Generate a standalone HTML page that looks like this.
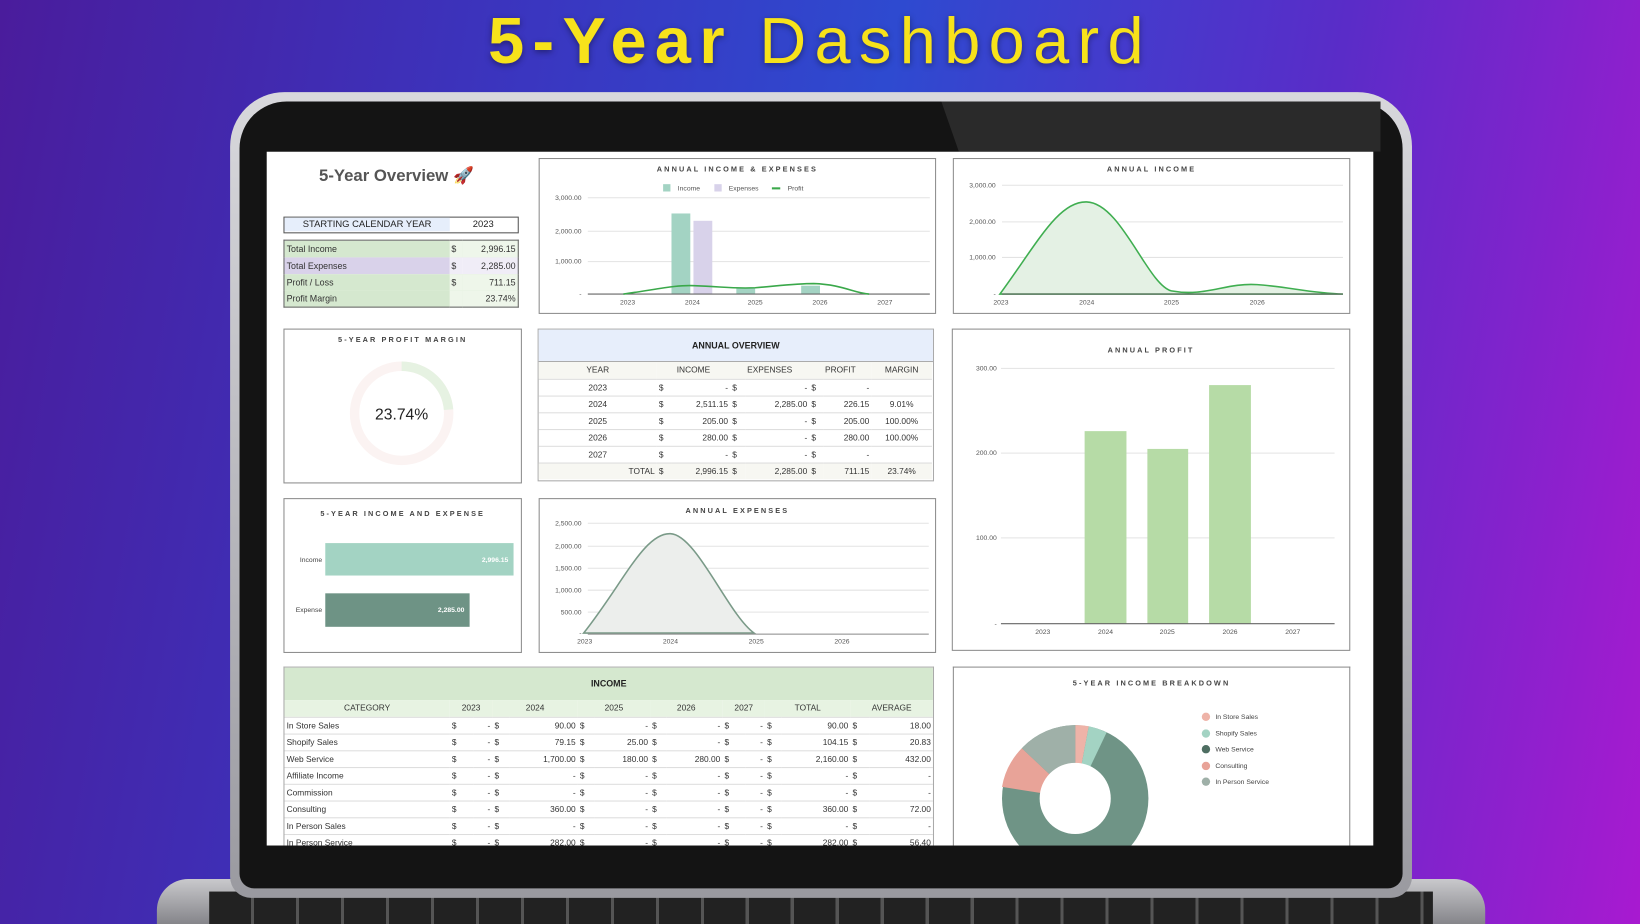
<!DOCTYPE html>
<html><head><meta charset="utf-8"><style>
*{margin:0;padding:0;box-sizing:border-box}
html,body{width:1640px;height:924px;overflow:hidden;background:#3a2ab0}
#w{position:absolute;left:0;top:0;width:1568px;height:883px;transform:scale(1.04592,1.04643);transform-origin:0 0;
background:linear-gradient(100deg,#4a1c9c 0%,#3a36c0 30%,#2e4ad0 50%,#5a2cc8 75%,#a81ad0 100%);overflow:hidden;font-family:"Liberation Sans",sans-serif}
.ttl{position:absolute;top:4px;left:0;width:1568px;text-align:center;color:#f7e21b;font-size:62px;letter-spacing:8px;text-shadow:0 2px 6px rgba(0,0,0,.4)}
.abs{position:absolute}
.p{position:absolute;background:#fff;border:1.5px solid #8c8c8c}
.pt{position:absolute;width:100%;text-align:center;font-size:7px;font-weight:bold;letter-spacing:2px;color:#444}
table{border-collapse:collapse;font-size:8px;color:#333}
td{padding:0 2px;height:16px}
</style></head><body><div id="w">
<div class="ttl"><b>5-Year</b> Dashboard</div>
<!-- laptop -->
<div class="abs" style="left:150px;top:840px;width:1270px;height:60px;background:linear-gradient(#c9c9cc,#6a6a70);border-radius:30px 30px 0 0"></div>
<div class="abs" style="left:200px;top:852px;width:1170px;height:40px;background:repeating-linear-gradient(90deg,#222 0 40px,#555 40px 43px)"></div>
<div class="abs" style="left:220px;top:88px;width:1130px;height:770px;background:linear-gradient(#d8d8dc,#9a9aa0);border-radius:52px 52px 20px 20px"></div>
<div class="abs" style="left:229px;top:97px;width:1112px;height:752px;background:#141414;border-radius:45px 45px 14px 14px"></div>
<div class="abs" style="left:900px;top:97px;width:420px;height:48px;background:#2a2a2a;clip-path:polygon(0 0,100% 0,100% 100%,4% 100%)"></div>
<div class="abs" style="left:255px;top:145px;width:1058px;height:663px;background:#fff"></div>

<div class="abs" style="left:305px;top:158px;font-size:16px;font-weight:bold;color:#555">5-Year Overview 🚀</div>
<div class="abs" style="left:271px;top:207px;width:225px;height:16px;border:1.5px solid #555;font-size:9px;color:#222">
<div class="abs" style="left:0;top:0;width:158px;height:13px;background:#e6eefb;text-align:center;line-height:13px">STARTING CALENDAR YEAR</div>
<div class="abs" style="left:158px;top:0;width:64px;text-align:center;line-height:13px">2023</div></div>
<table class="abs" style="left:271px;top:229px;width:225px;border:1.5px solid #666;font-size:8.5px">
<tr style="background:#d5e8cf"><td style="width:158px">Total Income</td><td style="background:#eef6ea">$</td><td style="background:#eef6ea;text-align:right">2,996.15</td></tr>
<tr><td style="background:#d9d2ea">Total Expenses</td><td style="background:#f0edf7">$</td><td style="background:#f0edf7;text-align:right">2,285.00</td></tr>
<tr style="background:#d5e8cf"><td>Profit / Loss</td><td style="background:#eef6ea">$</td><td style="background:#eef6ea;text-align:right">711.15</td></tr>
<tr style="background:#d5e8cf"><td>Profit Margin</td><td style="background:#eef6ea"></td><td style="background:#eef6ea;text-align:right">23.74%</td></tr></table>

<!-- Annual income & expenses -->
<div class="p" style="left:515px;top:151px;width:380px;height:149px">
<div class="pt" style="top:7px">ANNUAL INCOME &amp; EXPENSES</div>
<svg width="377" height="146" class="abs" style="left:0;top:0" font-family="Liberation Sans" font-size="6.5" fill="#555">
<rect x="118" y="24" width="7" height="7" fill="#a3d3c3"/><text x="132" y="30">Income</text>
<rect x="167" y="24" width="7" height="7" fill="#d8d2ea"/><text x="195" y="30" text-anchor="middle">Expenses</text>
<rect x="222" y="27" width="8" height="2" fill="#3aa84a"/><text x="237" y="30">Profit</text>
<g stroke="#e3e3e3"><line x1="46" y1="37" x2="373" y2="37"/><line x1="46" y1="69" x2="373" y2="69"/><line x1="46" y1="98" x2="373" y2="98"/></g>
<text x="40" y="39" text-anchor="end">3,000.00</text><text x="40" y="71" text-anchor="end">2,000.00</text><text x="40" y="100" text-anchor="end">1,000.00</text><text x="40" y="131" text-anchor="end">-</text>
<rect x="126" y="52" width="18" height="77" fill="#a3d3c3"/><rect x="147" y="59" width="18" height="70" fill="#d8d2ea"/>
<rect x="188" y="123" width="18" height="6" fill="#a3d3c3"/><rect x="250" y="121" width="18" height="8" fill="#a3d3c3"/>
<line x1="46" y1="129" x2="373" y2="129" stroke="#666"/>
<path d="M80 129 C110 125,130 120,148 121 C175 122,185 124,206 123 C230 121,245 119,262 119 C290 120,300 128,315 129" fill="none" stroke="#3aa84a" stroke-width="1.5"/>
<text x="84" y="139" text-anchor="middle">2023</text><text x="146" y="139" text-anchor="middle">2024</text><text x="206" y="139" text-anchor="middle">2025</text><text x="268" y="139" text-anchor="middle">2026</text><text x="330" y="139" text-anchor="middle">2027</text>
</svg></div>

<!-- Annual income -->
<div class="p" style="left:911px;top:151px;width:380px;height:149px">
<div class="pt" style="top:7px">ANNUAL INCOME</div>
<svg width="377" height="146" class="abs" style="left:0;top:0" font-family="Liberation Sans" font-size="6.5" fill="#555">
<g stroke="#e3e3e3"><line x1="46" y1="25" x2="372" y2="25"/><line x1="46" y1="60" x2="372" y2="60"/><line x1="46" y1="94" x2="372" y2="94"/></g>
<text x="40" y="27" text-anchor="end">3,000.00</text><text x="40" y="62" text-anchor="end">2,000.00</text><text x="40" y="96" text-anchor="end">1,000.00</text><text x="40" y="131" text-anchor="end">-</text>
<path d="M44 129 C80 80,100 40,127 41 C160 42,185 120,208 126 C240 132,260 118,290 120 C320 122,340 128,372 129 Z" fill="#e4f1e4" stroke="#3fae50" stroke-width="1.5"/>
<line x1="46" y1="129" x2="372" y2="129" stroke="#666"/>
<text x="45" y="139" text-anchor="middle">2023</text><text x="127" y="139" text-anchor="middle">2024</text><text x="208" y="139" text-anchor="middle">2025</text><text x="290" y="139" text-anchor="middle">2026</text>
</svg></div>

<!-- profit margin -->
<div class="p" style="left:271px;top:314px;width:228px;height:148px">
<div class="pt" style="top:7px">5-YEAR PROFIT MARGIN</div>
<svg width="225" height="145" class="abs" style="left:0;top:0">
<circle cx="112" cy="80" r="45" fill="none" stroke="#fbf3f2" stroke-width="9"/>
<circle cx="112" cy="80" r="45" fill="none" stroke="#e6f2e2" stroke-width="9" stroke-dasharray="67 300" transform="rotate(-90 112 80)"/>
<text x="112" y="86" text-anchor="middle" font-family="Liberation Sans" font-size="15" fill="#222">23.74%</text></svg></div>

<!-- annual overview -->
<div class="p" style="left:514px;top:314px;width:379px;height:146px;border-color:#aaa">
<div style="height:31px;background:#e7eefb;border-bottom:1.5px solid #aaa;text-align:center;line-height:31px;font-size:8.5px;font-weight:bold;color:#222">ANNUAL OVERVIEW</div>
<table style="width:376px;font-size:8px">
<tr style="background:#f7f7f2;text-align:center"><td style="width:113px">YEAR</td><td colspan="2">INCOME</td><td colspan="2">EXPENSES</td><td colspan="2">PROFIT</td><td>MARGIN</td></tr>
<tr style="border-top:1px solid #ddd"><td align="center">2023</td><td>$</td><td align="right">-</td><td>$</td><td align="right">-</td><td>$</td><td align="right">-</td><td></td></tr>
<tr style="border-top:1px solid #ddd"><td align="center">2024</td><td>$</td><td align="right">2,511.15</td><td>$</td><td align="right">2,285.00</td><td>$</td><td align="right">226.15</td><td align="center">9.01%</td></tr>
<tr style="border-top:1px solid #ddd"><td align="center">2025</td><td>$</td><td align="right">205.00</td><td>$</td><td align="right">-</td><td>$</td><td align="right">205.00</td><td align="center">100.00%</td></tr>
<tr style="border-top:1px solid #ddd"><td align="center">2026</td><td>$</td><td align="right">280.00</td><td>$</td><td align="right">-</td><td>$</td><td align="right">280.00</td><td align="center">100.00%</td></tr>
<tr style="border-top:1px solid #ddd"><td align="center">2027</td><td>$</td><td align="right">-</td><td>$</td><td align="right">-</td><td>$</td><td align="right">-</td><td></td></tr>
<tr style="border-top:1px solid #ddd;background:#f7f7f2"><td align="right">TOTAL</td><td>$</td><td align="right">2,996.15</td><td>$</td><td align="right">2,285.00</td><td>$</td><td align="right">711.15</td><td align="center">23.74%</td></tr>
</table></div>

<!-- annual profit -->
<div class="p" style="left:910px;top:314px;width:381px;height:308px">
<div class="pt" style="top:17px">ANNUAL PROFIT</div>
<svg width="378" height="305" class="abs" style="left:0;top:0" font-family="Liberation Sans" font-size="6.5" fill="#555">
<g stroke="#e3e3e3"><line x1="46" y1="37" x2="365" y2="37"/><line x1="46" y1="118" x2="365" y2="118"/><line x1="46" y1="199" x2="365" y2="199"/></g>
<text x="42" y="39" text-anchor="end">300.00</text><text x="42" y="120" text-anchor="end">200.00</text><text x="42" y="201" text-anchor="end">100.00</text><text x="42" y="283" text-anchor="end">-</text>
<rect x="126" y="97" width="40" height="184" fill="#b6dba6"/><rect x="186" y="114" width="39" height="167" fill="#b6dba6"/><rect x="245" y="53" width="40" height="228" fill="#b6dba6"/>
<line x1="46" y1="281" x2="365" y2="281" stroke="#666"/>
<text x="86" y="291" text-anchor="middle">2023</text><text x="146" y="291" text-anchor="middle">2024</text><text x="205" y="291" text-anchor="middle">2025</text><text x="265" y="291" text-anchor="middle">2026</text><text x="325" y="291" text-anchor="middle">2027</text>
</svg></div>

<!-- income and expense -->
<div class="p" style="left:271px;top:476px;width:228px;height:148px">
<div class="pt" style="top:11px">5-YEAR INCOME AND EXPENSE</div>
<svg width="225" height="145" class="abs" style="left:0;top:0" font-family="Liberation Sans" font-size="6.5">
<rect x="39" y="42" width="180" height="31" fill="#a3d3c3"/><rect x="39" y="90" width="138" height="32" fill="#6e9385"/>
<text x="36" y="60" text-anchor="end" fill="#444">Income</text><text x="36" y="108" text-anchor="end" fill="#444">Expense</text>
<text x="214" y="60" text-anchor="end" fill="#fff" font-weight="bold">2,996.15</text><text x="172" y="108" text-anchor="end" fill="#fff" font-weight="bold">2,285.00</text>
</svg></div>

<!-- annual expenses -->
<div class="p" style="left:515px;top:476px;width:380px;height:148px">
<div class="pt" style="top:8px">ANNUAL EXPENSES</div>
<svg width="377" height="145" class="abs" style="left:0;top:0" font-family="Liberation Sans" font-size="6.5" fill="#555">
<g stroke="#e3e3e3"><line x1="46" y1="23" x2="372" y2="23"/><line x1="46" y1="45" x2="372" y2="45"/><line x1="46" y1="66" x2="372" y2="66"/><line x1="46" y1="87" x2="372" y2="87"/><line x1="46" y1="108" x2="372" y2="108"/></g>
<text x="40" y="25" text-anchor="end">2,500.00</text><text x="40" y="47" text-anchor="end">2,000.00</text><text x="40" y="68" text-anchor="end">1,500.00</text><text x="40" y="89" text-anchor="end">1,000.00</text><text x="40" y="110" text-anchor="end">500.00</text><text x="40" y="130" text-anchor="end">-</text>
<path d="M42 128 C80 80,100 32,125 33 C150 34,180 110,205 128 Z" fill="#eceeec" stroke="#7a9a88" stroke-width="1.5"/>
<line x1="46" y1="129" x2="372" y2="129" stroke="#888"/>
<text x="43" y="138" text-anchor="middle">2023</text><text x="125" y="138" text-anchor="middle">2024</text><text x="207" y="138" text-anchor="middle">2025</text><text x="289" y="138" text-anchor="middle">2026</text>
</svg></div>

<!-- income table -->
<div class="abs" style="left:271px;top:637px;width:622px;height:171px;overflow:hidden;border:1.5px solid #aaa;border-bottom:none">
<div style="height:31px;background:#d5e8cf;text-align:center;line-height:31px;font-size:8.5px;font-weight:bold;color:#222">INCOME</div>
<table style="width:620px;font-size:8px">
<tr style="background:#e7f3e2;text-align:center"><td style="width:158px">CATEGORY</td><td colspan="2">2023</td><td colspan="2">2024</td><td colspan="2">2025</td><td colspan="2">2026</td><td colspan="2">2027</td><td colspan="2">TOTAL</td><td colspan="2">AVERAGE</td></tr>
<tr style="border-top:1px solid #ddd"><td>In Store Sales</td><td>$</td><td align="right">-</td><td>$</td><td align="right">90.00</td><td>$</td><td align="right">-</td><td>$</td><td align="right">-</td><td>$</td><td align="right">-</td><td>$</td><td align="right">90.00</td><td>$</td><td align="right">18.00</td></tr>
<tr style="border-top:1px solid #ddd"><td>Shopify Sales</td><td>$</td><td align="right">-</td><td>$</td><td align="right">79.15</td><td>$</td><td align="right">25.00</td><td>$</td><td align="right">-</td><td>$</td><td align="right">-</td><td>$</td><td align="right">104.15</td><td>$</td><td align="right">20.83</td></tr>
<tr style="border-top:1px solid #ddd"><td>Web Service</td><td>$</td><td align="right">-</td><td>$</td><td align="right">1,700.00</td><td>$</td><td align="right">180.00</td><td>$</td><td align="right">280.00</td><td>$</td><td align="right">-</td><td>$</td><td align="right">2,160.00</td><td>$</td><td align="right">432.00</td></tr>
<tr style="border-top:1px solid #ddd"><td>Affiliate Income</td><td>$</td><td align="right">-</td><td>$</td><td align="right">-</td><td>$</td><td align="right">-</td><td>$</td><td align="right">-</td><td>$</td><td align="right">-</td><td>$</td><td align="right">-</td><td>$</td><td align="right">-</td></tr>
<tr style="border-top:1px solid #ddd"><td>Commission</td><td>$</td><td align="right">-</td><td>$</td><td align="right">-</td><td>$</td><td align="right">-</td><td>$</td><td align="right">-</td><td>$</td><td align="right">-</td><td>$</td><td align="right">-</td><td>$</td><td align="right">-</td></tr>
<tr style="border-top:1px solid #ddd"><td>Consulting</td><td>$</td><td align="right">-</td><td>$</td><td align="right">360.00</td><td>$</td><td align="right">-</td><td>$</td><td align="right">-</td><td>$</td><td align="right">-</td><td>$</td><td align="right">360.00</td><td>$</td><td align="right">72.00</td></tr>
<tr style="border-top:1px solid #ddd"><td>In Person Sales</td><td>$</td><td align="right">-</td><td>$</td><td align="right">-</td><td>$</td><td align="right">-</td><td>$</td><td align="right">-</td><td>$</td><td align="right">-</td><td>$</td><td align="right">-</td><td>$</td><td align="right">-</td></tr>
<tr style="border-top:1px solid #ddd"><td>In Person Service</td><td>$</td><td align="right">-</td><td>$</td><td align="right">282.00</td><td>$</td><td align="right">-</td><td>$</td><td align="right">-</td><td>$</td><td align="right">-</td><td>$</td><td align="right">282.00</td><td>$</td><td align="right">56.40</td></tr>
</table></div>

<!-- income breakdown -->
<div class="abs" style="left:911px;top:637px;width:380px;height:171px;overflow:hidden;border:1.5px solid #8c8c8c;border-bottom:none;background:#fff">
<div class="pt" style="top:12px">5-YEAR INCOME BREAKDOWN</div>
<svg width="377" height="171" class="abs" style="left:0;top:0" font-family="Liberation Sans" font-size="6.5" fill="#444">
<g transform="translate(116,125)">
<circle r="70" fill="#6f9486"/>
<path d="M0 0 L0 -70 A70 70 0 0 1 13 -69 Z" fill="#eeb3a8"/>
<path d="M0 0 L13 -69 A70 70 0 0 1 30 -63 Z" fill="#a3d3c3"/>
<path d="M0 0 L-70 -11 A70 70 0 0 1 -51 -48 Z" fill="#e8a398"/>
<path d="M0 0 L-51 -48 A70 70 0 0 1 0 -70 Z" fill="#9fb0a8"/>
<circle r="34" fill="#fff"/></g>
<circle cx="241" cy="47" r="4" fill="#eeb3a8"/><text x="250" y="49">In Store Sales</text>
<circle cx="241" cy="63" r="4" fill="#a3d3c3"/><text x="250" y="65">Shopify Sales</text>
<circle cx="241" cy="78" r="4" fill="#4e6e62"/><text x="250" y="80">Web Service</text>
<circle cx="241" cy="94" r="4" fill="#e8a398"/><text x="250" y="96">Consulting</text>
<circle cx="241" cy="109" r="4" fill="#9fb0a8"/><text x="250" y="111">In Person Service</text>
</svg></div>
</div></body></html>
